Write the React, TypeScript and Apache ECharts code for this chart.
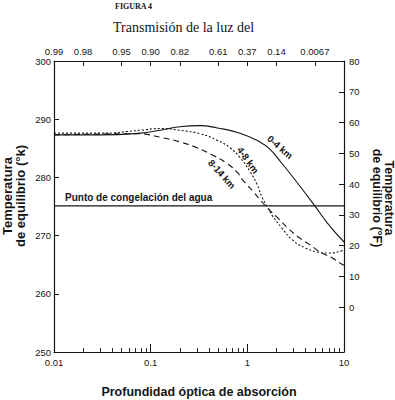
import React, { useEffect, useRef } from "react";
import * as echarts from "echarts";

// Optical depth (x) and equilibrium temperature in K (y)
const tauSolid = [0.01, 0.03, 0.078, 0.125, 0.2, 0.32, 0.49, 0.84, 1.35, 1.72, 2.18, 3.11, 5.0, 6.7, 10];
const tempSolid = [287.3, 287.3, 287.6, 288.1, 288.7, 288.9, 288.5, 287.6, 286.1, 284.8, 282.8, 279.6, 275.1, 272.2, 268.9];

const tauDotted = [0.01, 0.03, 0.078, 0.125, 0.2, 0.324, 0.485, 0.662, 0.84, 1.066, 1.26, 1.42, 1.6, 1.8, 2.28, 2.9, 3.95, 5.26, 6.83, 9.53, 10];
const tempDotted = [287.6, 287.6, 288.1, 288.4, 288.1, 287.5, 286.4, 285.1, 283.4, 281.0, 278.8, 276.6, 275.0, 273.5, 271.3, 269.3, 267.9, 267.2, 267.0, 267.4, 267.7];

const tauDashed = [0.01, 0.078, 0.098, 0.134, 0.201, 0.301, 0.441, 0.616, 0.782, 0.902, 1.145, 1.35, 1.56, 2.07, 2.63, 3.34, 4.45, 5.92, 7.51, 9.08, 10];
const tempDashed = [287.3, 287.5, 287.3, 286.8, 286.1, 285.1, 283.8, 282.4, 280.9, 279.5, 277.6, 276.2, 275.0, 273.0, 271.3, 269.8, 268.4, 267.0, 266.2, 265.3, 264.9];

const freezingK = 275.1;
const freezingTau = [0.01, 10];

const bottomTicks = [0.01, 0.1, 1, 10];
const bottomLabels = ["0.01", "0.1", "1", "10"];
const topTickTau = [0.01, 0.02, 0.05, 0.1, 0.2, 0.5, 1, 2, 5];
const topTickLabels = ["0.99", "0.98", "0.95", "0.90", "0.82", "0.61", "0.37", "0.14", "0.0067"];
const rightTicks = [0, 10, 20, 30, 40, 50, 60, 70, 80];

const FONT = "'Liberation Sans', Arial, sans-serif";
const INK = "#151515";

function nearestLabel(v: number, vals: number[], labels: string[]) {
  let best = -1;
  let bd = Infinity;
  for (let i = 0; i < vals.length; i++) {
    const d = Math.abs(Math.log10(v) - Math.log10(vals[i]));
    if (d < bd) {
      bd = d;
      best = i;
    }
  }
  return bd < 0.02 ? labels[best] : "";
}

function zip(a: number[], b: number[]) {
  return a.map((v, i) => [v, b[i]]);
}

export default function App() {
  const ref = useRef<HTMLDivElement>(null);
  useEffect(() => {
    const chart = echarts.init(ref.current!, null, { renderer: "svg" });
    const axisLine = { show: true, onZero: false, lineStyle: { color: INK, width: 1.2 } };
    const labelBase = { color: INK, fontSize: 9.5, fontFamily: FONT };
    const txt = (
      text: string,
      x: number,
      y: number,
      opts: any = {}
    ) => ({
      type: "text",
      x,
      y,
      rotation: opts.rotation || 0,
      silent: true,
      style: {
        text,
        fill: INK,
        fontSize: opts.fontSize || 10,
        fontWeight: opts.fontWeight || "normal",
        fontFamily: opts.fontFamily || FONT,
        lineHeight: opts.lineHeight,
        align: opts.align || "center",
        verticalAlign: "middle",
        textAlign: opts.align || "center",
        textVerticalAlign: "middle",
      },
    });
    chart.setOption({
      animation: false,
      backgroundColor: "#ffffff",
      grid: { left: 54, right: 51, top: 61, bottom: 48, containLabel: false, outerBoundsMode: "none" },
      xAxis: [
        {
          type: "log",
          logBase: 10,
          min: 0.01,
          max: 10,
          position: "bottom",
          axisLine,
          axisTick: { show: true, inside: true, length: 8, lineStyle: { color: INK, width: 1 } },
          minorTick: { show: true, splitNumber: 9, length: 4, lineStyle: { color: INK, width: 0.9 } },
          axisLabel: {
            ...labelBase,
            margin: 5,
            formatter: (v: number) => nearestLabel(v, bottomTicks, bottomLabels),
          },
          splitLine: { show: false },
          minorSplitLine: { show: false },
        },
        {
          type: "log",
          logBase: 10,
          min: 0.01,
          max: 10,
          position: "top",
          axisLine,
          axisTick: { show: true, inside: true, length: 5, customValues: topTickTau, lineStyle: { color: INK, width: 1 } },
          axisLabel: {
            ...labelBase,
            margin: 5,
            customValues: topTickTau,
            formatter: (v: number) => nearestLabel(v, topTickTau, topTickLabels),
          },
          splitLine: { show: false },
        },
      ],
      yAxis: [
        {
          type: "value",
          min: 250,
          max: 300,
          interval: 10,
          position: "left",
          axisLine,
          axisTick: { show: true, inside: true, length: 5, lineStyle: { color: INK, width: 1 } },
          axisLabel: { ...labelBase, margin: 3 },
          splitLine: { show: false },
        },
        {
          type: "value",
          min: -14.6,
          max: 80,
          position: "right",
          axisLine,
          axisTick: { show: true, inside: true, length: 5, customValues: rightTicks, lineStyle: { color: INK, width: 1 } },
          axisLabel: { ...labelBase, margin: 5, customValues: rightTicks },
          splitLine: { show: false },
        },
      ],
      series: [
        {
          type: "line",
          name: "0-4 km",
          data: zip(tauSolid, tempSolid),
          smooth: 0.5,
          symbol: "none",
          silent: true,
          lineStyle: { color: INK, width: 1.1, type: "solid" },
        },
        {
          type: "line",
          name: "4-8 km",
          data: zip(tauDotted, tempDotted),
          smooth: 0.5,
          symbol: "none",
          silent: true,
          lineStyle: { color: INK, width: 1.1, type: [2, 2] },
        },
        {
          type: "line",
          name: "8-14 km",
          data: zip(tauDashed, tempDashed),
          smooth: 0.5,
          symbol: "none",
          silent: true,
          lineStyle: { color: INK, width: 1.1, type: [6, 4] },
        },
        {
          type: "line",
          name: "freezing",
          data: freezingTau.map((t) => [t, freezingK]),
          symbol: "none",
          silent: true,
          lineStyle: { color: INK, width: 1.2 },
        },
      ],
      graphic: [
        txt("FIGURA 4", 115, 6, { fontSize: 8, fontWeight: "bold", fontFamily: "'Liberation Serif', serif", align: "left" }),
        txt("Transmisión de la luz del", 113, 27, { fontSize: 14, fontFamily: "'Liberation Serif', serif", align: "left" }),
        txt("Punto de congelación del agua", 65, 197, { fontSize: 10, fontWeight: "bold", align: "left" }),
        txt("0-4 km", 280, 147, { fontSize: 9.5, fontWeight: "bold", rotation: -0.72 }),
        txt("4-8 km", 248, 160, { fontSize: 9.5, fontWeight: "bold", rotation: -0.96 }),
        txt("8-14 km", 222, 174, { fontSize: 9.5, fontWeight: "bold", rotation: -0.84 }),
        txt("Temperatura\nde equilibrio (°k)", 14, 196, { fontSize: 13, fontWeight: "bold", rotation: Math.PI / 2, lineHeight: 13 }),
        txt("Temperatura\nde equilibrio (°F)", 383, 198, { fontSize: 12.5, fontWeight: "bold", rotation: -Math.PI / 2, lineHeight: 12 }),
        txt("Profundidad óptica de absorción", 199, 392, { fontSize: 12.5, fontWeight: "bold" }),
      ],
    });
    return () => chart.dispose();
  }, []);
  return (
    <div
      ref={ref}
      style={{ position: "fixed", left: 0, top: 0, width: 395, height: 400, background: "#fff" }}
    />
  );
}
